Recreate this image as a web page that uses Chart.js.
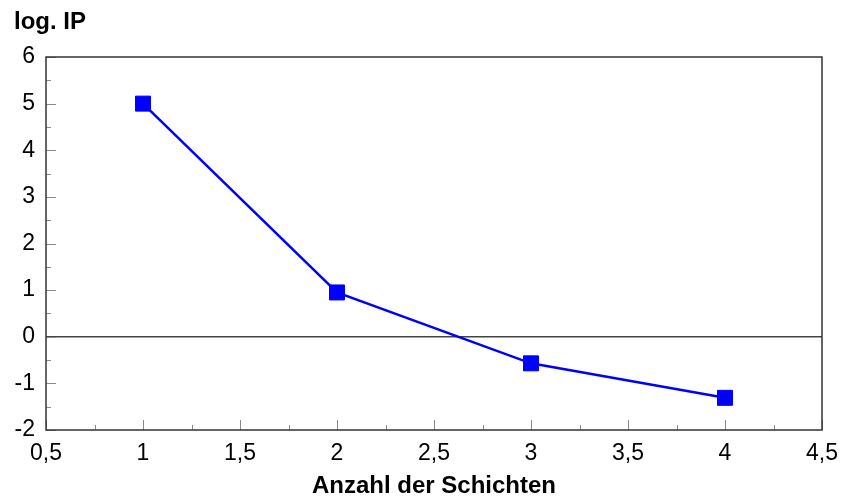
<!DOCTYPE html>
<html>
<head>
<meta charset="utf-8">
<script src="https://cdn.jsdelivr.net/npm/chart.js@4/dist/chart.umd.min.js"></script>
<style>
  html, body { margin: 0; padding: 0; background: #fff; }
  #wrap { width: 844px; height: 499px; position: relative; }
</style>
</head>
<body>
<div id="wrap"><canvas id="c"></canvas></div>
<script>
// Layer count vs. log intrusion protection
const schichten = [1, 2, 3, 4];
const logIP = [5.0, 0.95, -0.57, -1.31];

const xTicks = [0.5, 1, 1.5, 2, 2.5, 3, 3.5, 4, 4.5];
const yTicks = [-2, -1, 0, 1, 2, 3, 4, 5, 6];

const yTitle = 'log. IP';
const xTitle = 'Anzahl der Schichten';

const FONT = "'Liberation Sans', Arial, sans-serif";
const fmt = v => String(v).replace('.', ',');

// Frame, inward ticks and the y-axis caption
const framePlugin = {
  id: 'frame',
  afterDraw(chart) {
    const { ctx, chartArea: a, scales: { x, y } } = chart;
    ctx.save();
    // inward ticks
    ctx.strokeStyle = '#8a8a8a';
    ctx.lineWidth = 1;
    ctx.beginPath();
    for (let v = xTicks[0]; v <= xTicks[xTicks.length - 1] + 1e-9; v += 0.25) {
      const px = Math.round(x.getPixelForValue(v)) + 0.5;
      const major = Math.abs(v * 2 - Math.round(v * 2)) < 1e-9;
      const len = major ? 10 : 5;
      ctx.moveTo(px, a.bottom);
      ctx.lineTo(px, a.bottom - len);
    }
    for (let v = yTicks[0]; v <= yTicks[yTicks.length - 1] + 1e-9; v += 0.5) {
      const py = Math.round(y.getPixelForValue(v)) + 0.5;
      const major = Math.abs(v - Math.round(v)) < 1e-9;
      const len = major ? 10 : 5;
      ctx.moveTo(a.left, py);
      ctx.lineTo(a.left + len, py);
    }
    ctx.stroke();
    // frame
    ctx.strokeStyle = '#333';
    ctx.lineWidth = 1.5;
    ctx.strokeRect(a.left, a.top, a.right - a.left, a.bottom - a.top);
    // y caption
    ctx.fillStyle = '#000';
    ctx.font = 'bold 24px ' + FONT;
    ctx.textAlign = 'left';
    ctx.textBaseline = 'middle';
    ctx.fillText(yTitle, a.left - 32, a.top - 35);
    ctx.restore();
  }
};

new Chart(document.getElementById('c'), {
  type: 'line',
  data: {
    datasets: [{
      data: schichten.map((s, i) => ({ x: s, y: logIP[i] })),
      borderColor: '#0000ff',
      backgroundColor: '#0000ff',
      borderWidth: 2.5,
      pointStyle: 'rect',
      pointRadius: 10.6,
      pointBorderWidth: 1,
      pointHoverRadius: 10.6,
      tension: 0
    }]
  },
  options: {
    responsive: true,
    maintainAspectRatio: false,
    animation: false,
    events: [],
    layout: { padding: { top: 57, right: 22, left: 0, bottom: 0 } },
    plugins: { legend: { display: false }, tooltip: { enabled: false } },
    scales: {
      x: {
        type: 'linear',
        min: 0.5, max: 4.5,
        afterFit: s => { s.height = 69; s.paddingRight = 0; s.paddingLeft = 0; },
        afterBuildTicks: s => { s.ticks = xTicks.map(v => ({ value: v })); },
        ticks: {
          padding: 10,
          color: '#000',
          font: { family: FONT, size: 23 },
          maxRotation: 0,
          autoSkip: false,
          callback: v => fmt(v)
        },
        grid: { display: false, drawTicks: false },
        border: { display: false },
        title: {
          display: true,
          text: xTitle,
          color: '#000',
          font: { family: FONT, size: 24, weight: 'bold', lineHeight: 1 },
          padding: { top: 0, bottom: 1 }
        }
      },
      y: {
        type: 'linear',
        min: -2, max: 6,
        afterFit: s => { s.width = 46; },
        afterBuildTicks: s => { s.ticks = yTicks.map(v => ({ value: v })); },
        ticks: {
          padding: 11,
          color: '#000',
          font: { family: FONT, size: 23 },
          autoSkip: false,
          callback: v => fmt(v)
        },
        grid: {
          drawTicks: false,
          lineWidth: 1.5,
          color: c => (c.tick && c.tick.value === 0 ? '#444' : 'rgba(0,0,0,0)')
        },
        border: { display: false }
      }
    }
  },
  plugins: [framePlugin]
});
</script>
</body>
</html>
